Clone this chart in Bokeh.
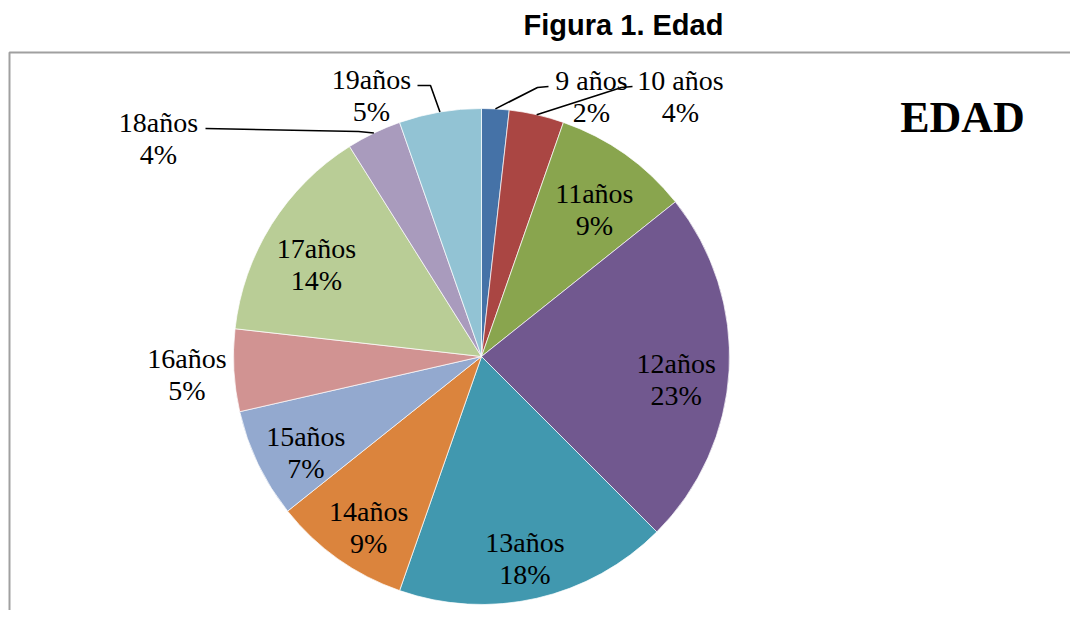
import math
from bokeh.plotting import figure
from bokeh.models import Range1d, ColumnDataSource
from bokeh.core.properties import value
from bokeh.embed import file_html
from bokeh.resources import INLINE

# ---------------- data ----------------
ages = ["9 años", "10 años", "11años", "12años", "13años", "14años",
        "15años", "16años", "17años", "18años", "19años"]
counts = [1, 2, 5, 13, 10, 5, 4, 3, 8, 2, 3]
colors = ["#4572A7", "#AA4643", "#89A54E", "#71588F", "#4198AF", "#DB843D",
          "#93A9CF", "#D19392", "#B9CD96", "#A99BBD", "#92C3D4"]
title_text = "Figura 1. Edad"
legend_title = "EDAD"

# label placement mode per slice: inside / outside end / with leader line
label_mode = ["leader", "leader", "inside", "inside", "inside", "inside",
              "inside", "outside", "inside", "leader", "leader"]

# ---------------- layout (screen pixels) ----------------
W, H = 1070, 610
CX, CY, R = 481, 356, 248
LINE_GAP = 32
INSIDE_R, OUTSIDE_R = 195, 295
BASE_FIX = 0.3  # em: renderer places the alphabetic baseline lower than expected
leader_layout = {
    0: dict(cx=591, base=88, path=[(548, 86), (537, 87)]),
    1: dict(cx=680, base=88, path=[(632, 86), (621, 87)]),
    9: dict(cx=158, base=130, path=[(205, 128), (358, 131)]),
    10: dict(cx=371, base=87, path=[(417, 85), (430, 85)]),
}


def dy(y):  # screen y -> data y
    return H - y


p = figure(width=W, height=H, x_range=Range1d(0, W), y_range=Range1d(0, H),
           tools="", toolbar_location=None, output_backend="svg",
           x_axis_location=None, y_axis_location=None, min_border=0)
p.grid.visible = False
p.outline_line_color = None
p.background_fill_color = "white"
p.border_fill_color = "white"

# chart-area border (continues past the page edge)
p.line(x=[9, 9, 1200], y=[dy(700), dy(52), dy(52)], line_color="#A0A0A0", line_width=2)

# ---------------- pie ----------------
total = sum(counts)
starts, ends, mids = [], [], []
cum = 0
for c in counts:
    a0 = cum / total * 2 * math.pi
    cum += c
    a1 = cum / total * 2 * math.pi
    starts.append(math.pi / 2 - a1)
    ends.append(math.pi / 2 - a0)
    mids.append((a0 + a1) / 2)

src = ColumnDataSource(dict(start=starts, end=ends, color=colors))
p.wedge(x=CX, y=dy(CY), radius=R, start_angle="start", end_angle="end",
        fill_color="color", line_color="white", line_width=0.7, source=src)

pcts = [f"{round(100 * c / total)}%" for c in counts]

LBL = 28
fix = BASE_FIX * LBL
lx, ly1, ly2 = [], [], []
lead_xs, lead_ys = [], []
for i, m in enumerate(mids):
    ux, uy = math.sin(m), -math.cos(m)  # screen direction
    mode = label_mode[i]
    if mode == "inside":
        px, py = CX + INSIDE_R * ux, CY + INSIDE_R * uy
        b1 = py + 4
    elif mode == "outside":
        px, py = CX + OUTSIDE_R * ux, CY + OUTSIDE_R * uy
        b1 = py - 6.5
    else:
        L = leader_layout[i]
        px, b1 = L["cx"], L["base"]
        pts = L["path"] + [(CX + R * ux, CY + R * uy)]
        lead_xs.append([q[0] for q in pts])
        lead_ys.append([dy(q[1]) for q in pts])
    lx.append(px)
    ly1.append(dy(b1 - fix))
    ly2.append(dy(b1 + LINE_GAP - fix))

p.multi_line(xs=lead_xs, ys=lead_ys, line_color="black", line_width=1.6)

font = value("Liberation Serif")
p.text(x=lx, y=ly1, text=ages, text_font=font, text_font_size=f"{LBL}px",
       text_align="center", text_baseline="alphabetic", text_color="black")
p.text(x=lx, y=ly2, text=pcts, text_font=font, text_font_size=f"{LBL}px",
       text_align="center", text_baseline="alphabetic", text_color="black")

# titles
p.text(x=[623], y=[dy(33 - BASE_FIX * 29)], text=[title_text], text_font=value("Liberation Sans"),
       text_font_style="bold", text_font_size="29px", text_align="center",
       text_baseline="alphabetic", text_color="black")
p.text(x=[962], y=[dy(130 - BASE_FIX * 44)], text=[legend_title], text_font=font,
       text_font_style="bold", text_font_size="44px", text_align="center",
       text_baseline="alphabetic", text_color="black")

open("out.html", "w").write(file_html(p, INLINE))
